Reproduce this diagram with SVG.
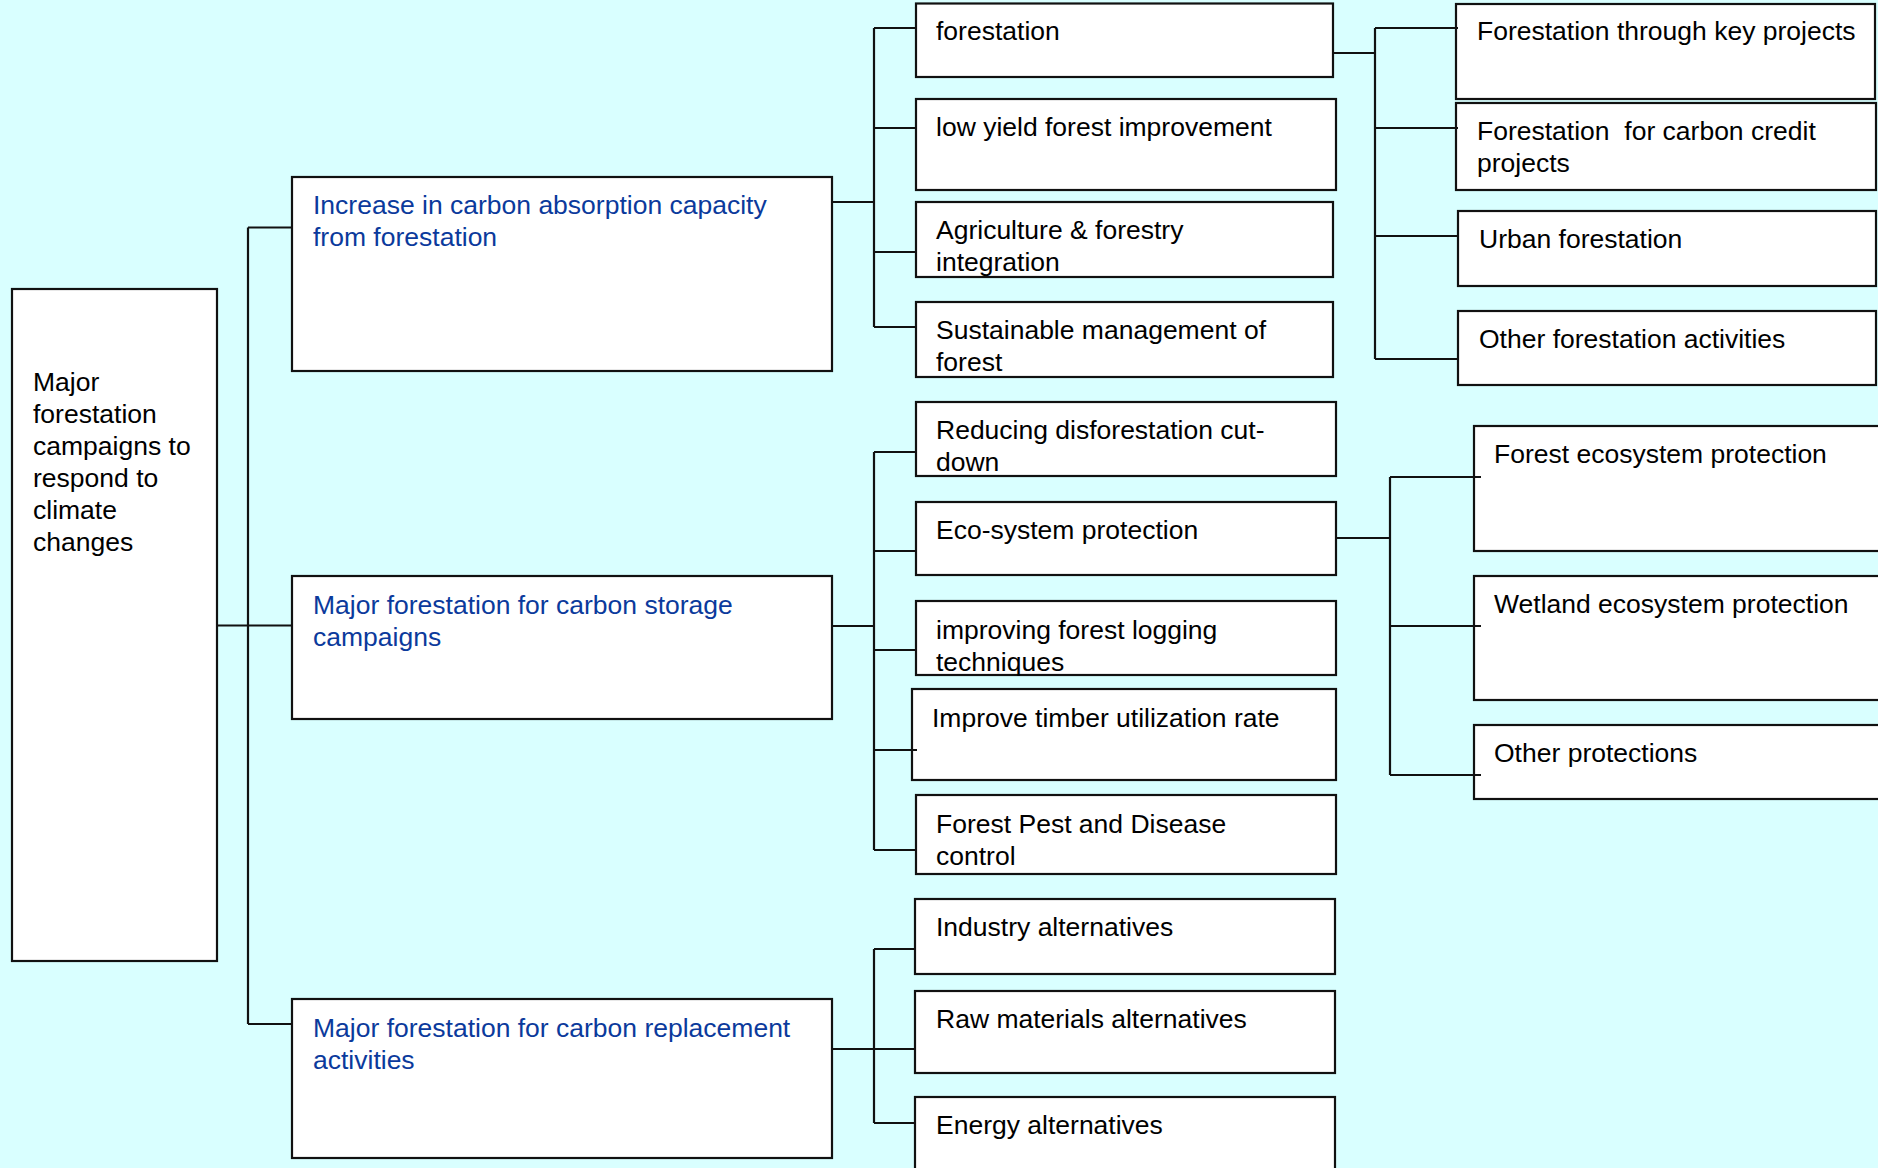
<svg xmlns="http://www.w3.org/2000/svg" width="1878" height="1168" viewBox="0 0 1878 1168">
<style>
.box{fill:#ffffff;stroke:#111111;stroke-width:2.2}
.ln{fill:none;stroke:#111111;stroke-width:2.2}
text{font-family:"Liberation Sans",Arial,sans-serif;font-size:26.5px;fill:#000000;white-space:pre}
.blue{fill:#0B3A9C}
</style>
<rect x="0" y="0" width="1878" height="1168" fill="#D9FFFF"/>
<g id="root">
<rect class="box" x="12" y="289" width="205" height="672"/>
<text x="33" y="391">Major</text>
<text x="33" y="423">forestation</text>
<text x="33" y="455">campaigns to</text>
<text x="33" y="487">respond to</text>
<text x="33" y="519">climate</text>
<text x="33" y="551">changes</text>
</g>
<g id="absorption">
<rect class="box" x="292" y="177" width="540" height="194"/>
<text class="blue" x="313" y="214">Increase in carbon absorption capacity</text>
<text class="blue" x="313" y="246">from forestation</text>
</g>
<g id="storage">
<rect class="box" x="292" y="576" width="540" height="143"/>
<text class="blue" x="313" y="614">Major forestation for carbon storage</text>
<text class="blue" x="313" y="646">campaigns</text>
</g>
<g id="replacement">
<rect class="box" x="292" y="999" width="540" height="159"/>
<text class="blue" x="313" y="1037">Major forestation for carbon replacement</text>
<text class="blue" x="313" y="1069">activities</text>
</g>
<g id="forestation">
<rect class="box" x="916" y="3.5" width="417" height="73.5"/>
<text x="936" y="40">forestation</text>
</g>
<g id="low-yield">
<rect class="box" x="916" y="99" width="420" height="91"/>
<text x="936" y="136">low yield forest improvement</text>
</g>
<g id="agriculture">
<rect class="box" x="916" y="202" width="417" height="75"/>
<text x="936" y="239">Agriculture &amp; forestry</text>
<text x="936" y="271">integration</text>
</g>
<g id="sustainable">
<rect class="box" x="916" y="302" width="417" height="75"/>
<text x="936" y="339">Sustainable management of</text>
<text x="936" y="371">forest</text>
</g>
<g id="key-projects">
<rect class="box" x="1456" y="4" width="419" height="95"/>
<text x="1477" y="40">Forestation through key projects</text>
</g>
<g id="carbon-credit">
<rect class="box" x="1456" y="103" width="420" height="87"/>
<text x="1477" y="140">Forestation  for carbon credit</text>
<text x="1477" y="172">projects</text>
</g>
<g id="urban">
<rect class="box" x="1458" y="211" width="418" height="75"/>
<text x="1479" y="248">Urban forestation</text>
</g>
<g id="other-forestation">
<rect class="box" x="1458" y="311" width="418" height="74"/>
<text x="1479" y="348">Other forestation activities</text>
</g>
<g id="reducing">
<rect class="box" x="916" y="402" width="420" height="74"/>
<text x="936" y="439">Reducing disforestation cut-</text>
<text x="936" y="471">down</text>
</g>
<g id="eco-system">
<rect class="box" x="916" y="502" width="420" height="73"/>
<text x="936" y="539">Eco-system protection</text>
</g>
<g id="logging">
<rect class="box" x="916" y="601" width="420" height="74"/>
<text x="936" y="639">improving forest logging</text>
<text x="936" y="671">techniques</text>
</g>
<g id="timber">
<rect class="box" x="912" y="689" width="424" height="91"/>
<text x="932" y="727">Improve timber utilization rate</text>
</g>
<g id="pest">
<rect class="box" x="916" y="795" width="420" height="79"/>
<text x="936" y="833">Forest Pest and Disease</text>
<text x="936" y="865">control</text>
</g>
<g id="forest-ecosystem">
<rect class="box" x="1474" y="426" width="420" height="125"/>
<text x="1494" y="463">Forest ecosystem protection</text>
</g>
<g id="wetland">
<rect class="box" x="1474" y="576" width="420" height="124"/>
<text x="1494" y="613">Wetland ecosystem protection</text>
</g>
<g id="other-protections">
<rect class="box" x="1474" y="725" width="420" height="74"/>
<text x="1494" y="762">Other protections</text>
</g>
<g id="industry">
<rect class="box" x="915" y="899" width="420" height="75"/>
<text x="936" y="936">Industry alternatives</text>
</g>
<g id="raw-materials">
<rect class="box" x="915" y="991" width="420" height="82"/>
<text x="936" y="1028">Raw materials alternatives</text>
</g>
<g id="energy">
<rect class="box" x="915" y="1097" width="420" height="90"/>
<text x="936" y="1134">Energy alternatives</text>
</g>
<g id="connectors">
<path class="ln" d="M217,625.5H248M248,227.5V1024M248,227.5H292M248,625.5H292M248,1024H292"/>
<path class="ln" d="M832,202H874M874,28V327M874,28H916M874,128H916M874,252H916M874,327H916"/>
<path class="ln" d="M1333,53H1375M1375,28V359M1375,28H1458M1375,128H1458M1375,236H1458M1375,359H1458"/>
<path class="ln" d="M832,626H874M874,452V850M874,452H916M874,551H916M874,650H916M874,750H917M874,850H916"/>
<path class="ln" d="M1336,538H1390M1390,477V775M1390,477H1481M1390,626H1481M1390,775H1481"/>
<path class="ln" d="M832,1049H874M874,949V1123M874,949H915M874,1049H915M874,1123H915"/>
</g>
</svg>
